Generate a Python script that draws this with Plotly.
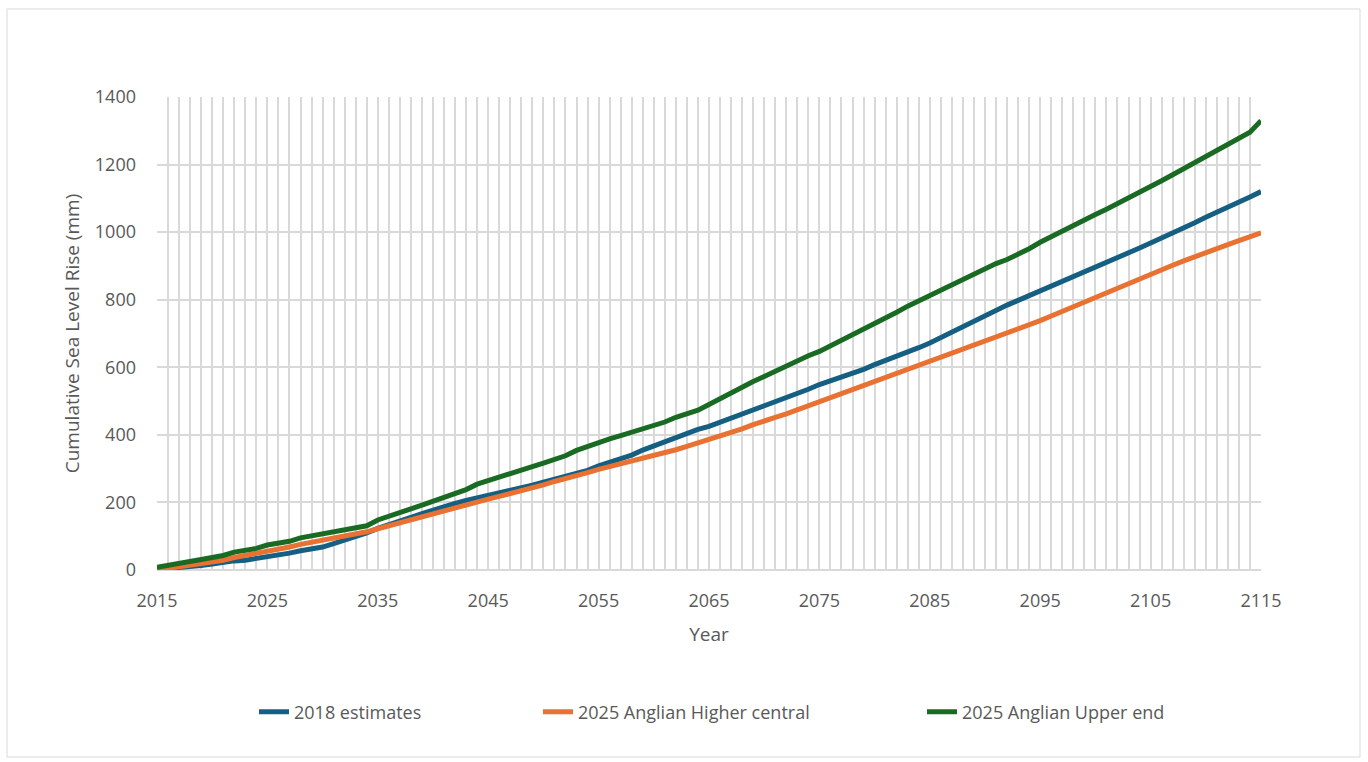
import plotly.graph_objects as go

years = list(range(2015, 2116))

est_2018 = [2, 4, 6, 8, 13, 18, 24, 27, 29, 34,
            38, 43, 50, 57, 63, 68, 78, 88, 99, 110,
            123, 135, 145, 156, 167, 178, 188, 197, 206, 213,
            222, 228, 236, 244, 251, 260, 268, 277, 286, 295,
            308, 318, 328, 340, 355, 368, 380, 392, 405, 416,
            425, 437, 452, 463, 474, 488, 500, 512, 524, 535,
            549, 560, 571, 582, 594, 608, 620, 633, 645, 658,
            672, 688, 705, 722, 740, 755, 768, 784, 798, 812,
            823, 838, 853, 868, 882, 895, 908, 922, 938, 953,
            968, 982, 997, 1012, 1028, 1044, 1058, 1072, 1088, 1104,
            1120]

higher_central = [0, 5, 9, 14, 18, 24, 29, 37, 43, 48,
                  54, 62, 68, 76, 82, 88, 94, 99, 106, 113,
                  122, 131, 141, 149, 158, 168, 177, 186, 195, 203,
                  210, 218, 226, 235, 242, 252, 262, 270, 278, 288,
                  298, 306, 313, 322, 332, 340, 347, 356, 366, 376,
                  386, 396, 408, 418, 430, 442, 452, 462, 474, 486,
                  500, 512, 523, 534, 546, 558, 570, 582, 594, 605,
                  617, 628, 640, 652, 664, 676, 688, 700, 712, 726,
                  738, 752, 766, 780, 792, 805, 819, 834, 848, 862,
                  875, 888, 902, 915, 928, 940, 952, 963, 975, 987,
                  998]

upper_end = [8, 13, 18, 26, 31, 37, 43, 53, 59, 64,
             74, 80, 85, 95, 101, 106, 114, 120, 125, 131,
             148, 160, 170, 181, 192, 203, 214, 225, 238, 254,
             265, 276, 287, 297, 306, 316, 327, 338, 354, 366,
             377, 388, 398, 408, 418, 428, 438, 452, 462, 473,
             490, 508, 525, 542, 558, 573, 589, 605, 620, 634,
             647, 663, 680, 697, 712, 728, 745, 763, 781, 797,
             812, 828, 845, 862, 878, 894, 907, 919, 933, 951,
             970, 987, 1005, 1021, 1037, 1052, 1068, 1084, 1100, 1118,
             1136, 1152, 1170, 1188, 1206, 1222, 1240, 1257, 1276, 1296,
             1330]

series_names = ["2018 estimates", "2025 Anglian Higher central", "2025 Anglian Upper end"]
series_values = [est_2018, higher_central, upper_end]
series_colors = ["#156082", "#E97132", "#196B24"]
legend_ids = ["legend", "legend2", "legend3"]

FONT = "Open Sans"
GREY = "#595959"
GRID = "#d9d9d9"

fig = go.Figure()
for name, vals, col, lg in zip(series_names, series_values, series_colors, legend_ids):
    fig.add_trace(go.Scatter(x=years, y=vals, mode="lines", name=name, showlegend=True,
                             line=dict(color=col, width=5), legend=lg))

W, H = 1368, 762
ml, mr, mt, mb = 157, 107, 97, 192
pw = W - ml - mr
ph = H - mt - mb

def px_x(p):
    return (p - ml) / pw

def px_y(p):
    return (H - mb - p) / ph

leg_common = dict(orientation="h", yanchor="middle", xanchor="left",
                  font=dict(family=FONT, size=18, color=GREY),
                  bgcolor="rgba(0,0,0,0)", itemwidth=30, visible=True)

fig.update_layout(
    width=W, height=H,
    margin=dict(l=ml, r=mr, t=mt, b=mb),
    paper_bgcolor="white", plot_bgcolor="white",
    showlegend=True,
    font=dict(family=FONT, size=18, color=GREY),
    legend=dict(x=px_x(254), y=px_y(712), **leg_common),
    legend2=dict(x=px_x(538), y=px_y(712), **leg_common),
    legend3=dict(x=px_x(922), y=px_y(712), **leg_common),
    xaxis=dict(range=[2015, 2115], tick0=2015, dtick=10, showgrid=True,
               gridcolor=GRID, gridwidth=2,
               minor=dict(dtick=1, tick0=2015, showgrid=True, gridcolor=GRID, gridwidth=2),
               showline=False, zeroline=False, ticks="",
               tickfont=dict(family=FONT, size=18, color=GREY),
               ticklabelstandoff=18,
               title=dict(text="Year", font=dict(family=FONT, size=19, color=GREY), standoff=16)),
    yaxis=dict(range=[0, 1400], dtick=200, showgrid=True, gridcolor=GRID, gridwidth=2,
               zeroline=True, zerolinecolor=GRID, zerolinewidth=2,
               showline=False, ticks="",
               tickfont=dict(family=FONT, size=18, color=GREY),
               ticklabelstandoff=20,
               title=dict(text="Cumulative Sea Level Rise (mm)",
                          font=dict(family=FONT, size=19, color=GREY), standoff=10)),
    shapes=[dict(type="rect", xref="paper", yref="paper",
                 x0=px_x(7), x1=px_x(1360), y0=px_y(757), y1=px_y(9),
                 line=dict(color=GRID, width=1), fillcolor="rgba(0,0,0,0)", layer="below")],
)

fig.write_html("out.html")
